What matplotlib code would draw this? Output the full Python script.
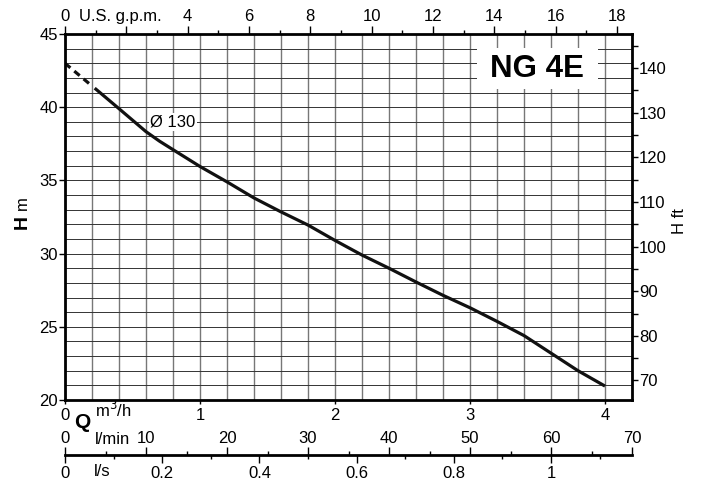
import matplotlib
matplotlib.use('Agg')
import matplotlib.pyplot as plt
from matplotlib.patches import Rectangle
import numpy as np

plt.rcParams['font.family'] = ['Liberation Sans', 'DejaVu Sans']
plt.rcParams['font.size'] = 12

# pump curve NG 4E, impeller 130 mm (Q in m3/h, H in m)
q_dash = [0.0, 0.2]
h_dash = [43.0, 41.45]
q_curve = [0.22, 0.4, 0.6, 0.7, 0.8, 1.0, 1.2, 1.4, 1.6, 1.8, 2.0, 2.2, 2.4,
           2.6, 2.8, 3.0, 3.2, 3.4, 3.6, 3.8, 4.0]
h_curve = [41.3, 39.9, 38.33, 37.68, 37.1, 35.95, 34.9, 33.8, 32.85, 31.95,
           30.9, 29.9, 29.0, 28.06, 27.15, 26.3, 25.37, 24.4, 23.2, 22.0, 20.95]

m3h_ticks = [0, 1, 2, 3, 4]
h_ticks = [20, 25, 30, 35, 40, 45]
gpm_ticks = [0, 2, 4, 6, 8, 10, 12, 14, 16, 18]
gpm_labels = ['0', '', '4', '6', '8', '10', '12', '14', '16', '18']
ft_ticks = [70, 80, 90, 100, 110, 120, 130, 140]
lmin_ticks = [0, 10, 20, 30, 40, 50, 60, 70]
ls_ticks = [0, 0.2, 0.4, 0.6, 0.8, 1.0]
ls_labels = ['0', '0.2', '0.4', '0.6', '0.8', '1']

QMAX = 4.2
HMIN, HMAX = 20, 45
GPM = 4.40287
FT = 3.28084

W, H = 705, 487
def fx(x):
    return x / W
def fy(y):
    return 1 - y / H

fig = plt.figure(figsize=(7.05, 4.87), dpi=100)
ax = fig.add_axes([fx(65), fy(400), fx(632) - fx(65), fy(34) - fy(400)])
ax.set_xlim(0, QMAX)
ax.set_ylim(HMIN, HMAX)
ax.set_xticks(m3h_ticks)
ax.set_xticks(np.arange(0, QMAX + 0.01, 0.2), minor=True)
ax.set_yticks(h_ticks)
ax.set_yticks(np.arange(HMIN, HMAX + 0.1, 1), minor=True)
ax.xaxis.grid(which='both', color='#777777', lw=1.0)
ax.yaxis.grid(which='both', color='#333333', lw=0.7)
ax.set_axisbelow(True)
ax.tick_params(which='minor', length=0)
ax.tick_params(axis='y', which='major', length=4, width=1, pad=1)
ax.tick_params(axis='x', which='major', length=3, width=1, pad=3)
for s in ax.spines.values():
    s.set_linewidth(2)

ax.plot(q_dash, h_dash, color='#111111', lw=2.3, ls=(0, (2.2, 1.6)))
ax.plot(q_curve, h_curve, color='#111111', lw=2.3, solid_capstyle='butt')

# top axis: U.S. g.p.m.
axt = ax.twiny()
axt.set_xlim(0, QMAX * GPM)
axt.set_xticks(gpm_ticks)
axt.set_xticklabels(gpm_labels)
axt.set_xticks(np.arange(1, 19, 2), minor=True)
axt.tick_params(which='major', length=6, width=1, pad=1)
axt.tick_params(which='minor', length=3, width=1)
for s in axt.spines.values():
    s.set_visible(False)

# right axis: H ft
axr = ax.twinx()
axr.set_ylim(HMIN * FT, HMAX * FT)
axr.set_yticks(ft_ticks)
axr.set_yticks(np.arange(75, 146, 10), minor=True)
axr.tick_params(which='both', length=4, width=1, pad=1)
for s in axr.spines.values():
    s.set_visible(False)

# bottom scales: l/min above, l/s below
axb = fig.add_axes([fx(65), fy(455), fx(632) - fx(65), 0.0005])
axb.patch.set_visible(False)
axb.set_xlim(0, QMAX * 1000 / 60)
axb.set_yticks([])
axb.xaxis.tick_top()
axb.set_xticks(lmin_ticks)
axb.set_xticks(np.arange(5, 70, 10), minor=True)
axb.tick_params(which='major', length=6, width=1, pad=0)
axb.tick_params(which='minor', length=3, width=1)
for k, s in axb.spines.items():
    s.set_visible(k == 'top')
axb.spines['top'].set_linewidth(2)

axs = fig.add_axes([fx(65), fy(455), fx(632) - fx(65), 0.0005])
axs.patch.set_visible(False)
axs.set_xlim(0, QMAX / 3.6)
axs.set_yticks([])
axs.set_xticks(ls_ticks)
axs.set_xticklabels(ls_labels)
axs.set_xticks(np.arange(0.1, 1.17, 0.2), minor=True)
axs.tick_params(which='major', length=6, width=1, pad=2)
axs.tick_params(which='minor', length=3, width=1)
for s in axs.spines.values():
    s.set_visible(False)

# labels
fig.text(fx(120), fy(17), 'U.S. g.p.m.', ha='center', va='center')
fig.text(fx(22), fy(222), 'H', rotation=90, ha='center', va='center',
         fontweight='bold', fontsize=14)
fig.text(fx(22), fy(203), 'm', rotation=90, ha='center', va='center')
fig.text(fx(679), fy(221), 'H ft', rotation=90, ha='center', va='center')
fig.text(fx(82), fy(423), 'Q', ha='center', va='center',
         fontweight='bold', fontsize=15)
fig.text(fx(95), fy(410), 'm$^3$/h', ha='left', va='center')
fig.text(fx(95), fy(440), 'l/min', ha='left', va='center')
fig.text(fx(94), fy(471), 'l/s', ha='left', va='center')

# white panel behind the model name
fig.add_artist(Rectangle((fx(477), fy(89)), fx(598) - fx(477), fy(48) - fy(89),
                         transform=fig.transFigure, fc='white', ec='none',
                         zorder=2.5))
fig.text(fx(537), fy(69), 'NG 4E', ha='center', va='center',
         fontweight='bold', fontsize=22.5, zorder=3)
fig.text(fx(173), fy(122), '\u00d8 130', ha='center', va='center',
         bbox=dict(boxstyle='square,pad=0.1', fc='white', ec='none'))

fig.savefig('out.png', dpi=100)
